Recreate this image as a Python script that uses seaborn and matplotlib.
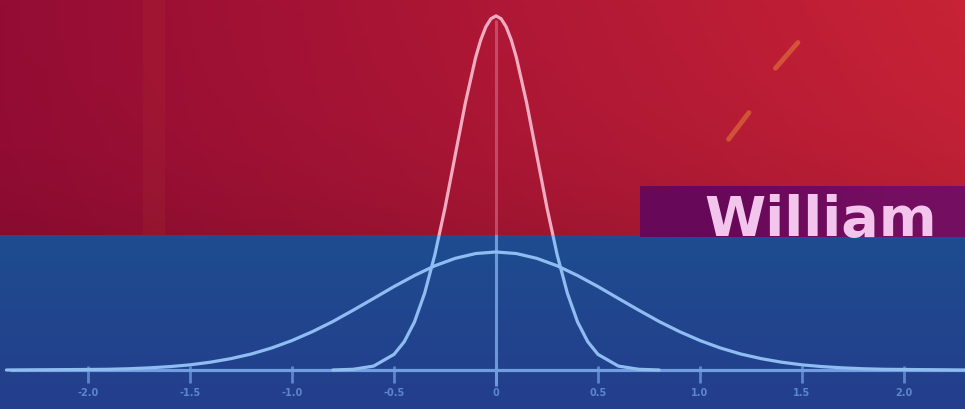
import numpy as np
import pandas as pd
import matplotlib
matplotlib.use("Agg")
import matplotlib.pyplot as plt
import matplotlib.patches as patches
import seaborn as sns

# data ===========================================================================
tick_values = [-2.0, -1.5, -1.0, -0.5, 0.0, 0.5, 1.0, 1.5, 2.0]
tick_labels = ["-2.0", "-1.5", "-1.0", "-0.5", "0", "0.5", "1.0", "1.5", "2.0"]

narrow_x = [-0.8, -0.7, -0.6, -0.5, -0.45, -0.4, -0.35, -0.3, -0.25, -0.2, -0.15, -0.1, -0.075, -0.05,
            -0.025, 0.0, 0.025, 0.05, 0.075, 0.1, 0.15, 0.2, 0.25, 0.3, 0.35, 0.4, 0.45, 0.5, 0.6, 0.7, 0.8]
narrow_y = [0.0, 0.004, 0.022, 0.088, 0.159, 0.270, 0.432, 0.648, 0.913, 1.210, 1.506, 1.760, 1.859, 1.933,
            1.979, 1.995, 1.979, 1.933, 1.859, 1.760, 1.506, 1.210, 0.913, 0.648, 0.432, 0.270, 0.159,
            0.088, 0.022, 0.004, 0.0]

wide_x = [-2.4, -2.0, -1.9, -1.8, -1.7, -1.6, -1.5, -1.4, -1.3, -1.2, -1.1, -1.0, -0.9, -0.8, -0.7, -0.6,
          -0.5, -0.4, -0.3, -0.2, -0.1, 0.0, 0.1, 0.2, 0.3, 0.4, 0.5, 0.6, 0.7, 0.8, 0.9, 1.0, 1.1,
          1.2, 1.3, 1.4, 1.5, 1.6, 1.7, 1.8, 1.9, 2.0, 2.3]
wide_y = [0.0, 0.003, 0.004, 0.007, 0.012, 0.019, 0.029, 0.044, 0.064, 0.090, 0.124, 0.166, 0.216, 0.273,
          0.337, 0.403, 0.470, 0.532, 0.587, 0.629, 0.656, 0.665, 0.656, 0.629, 0.587, 0.532, 0.470,
          0.403, 0.337, 0.273, 0.216, 0.166, 0.124, 0.090, 0.064, 0.044, 0.029, 0.019, 0.012, 0.007,
          0.004, 0.003, 0.0]

# two little orange strokes up right
dash1_x = [1.37, 1.48]
dash1_y = [1.700, 1.845]
dash2_x = [1.14, 1.24]
dash2_y = [1.300, 1.450]

title_text = "William"

# PLOTTER ========================================================================
sns.set_style("white")
fig = plt.figure(figsize=(9.65, 4.09), dpi=100)
ax = fig.add_axes([0, 0, 1, 1])
ax.set_xlim(-496 / 204, (965 - 496) / 204)
ax.set_ylim(-(409 - 370) / 177.5, 370 / 177.5)
ax.axis("off")

split = (409 - 235) / 409  # red / blue border, axes fraction

# red part, darker on the left, brighter up right, a bit darker near its bottom
gx = np.linspace(0, 1, 200)
gy = np.linspace(0, 1, 60)
GX, GY = np.meshgrid(gx, gy)
left = np.array([148, 12, 52]) / 255
right = np.array([192, 32, 54]) / 255
red = left[None, None, :] * (1 - GX[..., None]) + right[None, None, :] * GX[..., None]
red = red + 0.05 * (GX * (1 - GY))[..., None] * np.array([0.6, 0.2, 0.0])[None, None, :]
red = red * (1 - 0.08 * GY[..., None] ** 3)
red = np.clip(red, 0, 1)
ax.imshow(red, extent=[0, 1, split, 1], transform=ax.transAxes, aspect="auto", zorder=0, origin="upper")

# blue part
blue_top = np.array([30, 76, 144]) / 255
blue_bot = np.array([36, 62, 140]) / 255
by = np.linspace(0, 1, 40)[:, None, None]
blue = blue_top[None, None, :] * (1 - by) + blue_bot[None, None, :] * by
blue = np.repeat(blue, 10, axis=1)
ax.imshow(blue, extent=[0, 1, 0, split], transform=ax.transAxes, aspect="auto", zorder=0, origin="upper")

# faint vertical stripe on the left of the red area
ax.add_patch(patches.Rectangle((143 / 965, split), 22 / 965, 1 - split, transform=ax.transAxes,
                               color="#b8402c", alpha=0.14, lw=0, zorder=0.5))

red_clip = patches.Rectangle((0, split), 1, 1 - split, transform=ax.transAxes, fc="none", ec="none")
blue_clip = patches.Rectangle((0, 0), 1, split, transform=ax.transAxes, fc="none", ec="none")
ax.add_patch(red_clip)
ax.add_patch(blue_clip)

narrow = pd.DataFrame({"x": narrow_x, "y": narrow_y})
wide = pd.DataFrame({"x": wide_x, "y": wide_y})

for clip, col, centre_col, centre_alpha in [(red_clip, "#f2acc2", "#d0607f", 0.7),
                                             (blue_clip, "#8fbdf2", "#7aa8e6", 0.85)]:
    n_lines = len(ax.lines)
    sns.lineplot(data=narrow, x="x", y="y", ax=ax, color=col, lw=2.3, sort=False, zorder=3)
    sns.lineplot(data=wide, x="x", y="y", ax=ax, color=col, lw=2.3, sort=False, zorder=3)
    ax.vlines(0, -0.09, 1.97, color=centre_col, lw=2.2, alpha=centre_alpha, zorder=2).set_clip_path(clip)
    for line in ax.lines[n_lines:]:
        line.set_clip_path(clip)

# axis line, ticks and labels
ax.hlines(0, -2.38, 2.3, color="#6f9fe0", lw=2.3, zorder=2.5)
ax.vlines(tick_values, -0.075, 0.02, color="#6f9fe0", lw=2.0, alpha=0.75, zorder=2)
for tv, tl in zip(tick_values, tick_labels):
    ax.text(tv, -0.13, tl, ha="center", va="center", fontsize=7, color="#6f9fe0",
            alpha=0.75, fontweight="bold", zorder=2)

# orange strokes
for dx, dy in [(dash1_x, dash1_y), (dash2_x, dash2_y)]:
    ax.plot(dx, dy, color="#e0703a", lw=3.5, alpha=0.65, solid_capstyle="round", zorder=2)

# name box, a little lighter to the right
box = np.array([[[104, 8, 88], [116, 14, 96]]]) / 255
ax.imshow(box, extent=[640 / 965, 1, (409 - 237) / 409, (409 - 186) / 409], transform=ax.transAxes,
          aspect="auto", interpolation="bilinear", zorder=1)
ax.text(821 / 965, (409 - 236) / 409, title_text, transform=ax.transAxes, ha="center", va="baseline",
        fontsize=40, fontweight="bold", family="DejaVu Sans", color="#f3c4ec", zorder=4)

plt.savefig("out.png", dpi=100)
